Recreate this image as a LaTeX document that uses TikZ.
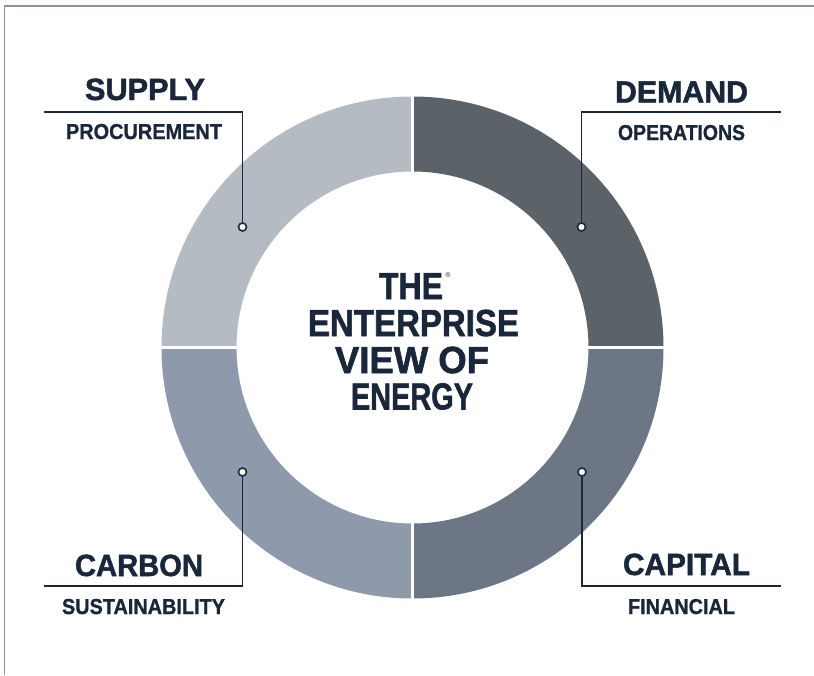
\documentclass[tikz,border=0pt]{standalone}
\usepackage{fontspec}
\setmainfont{Liberation Sans}
\newfontfamily\heavyfont{Liberation Sans Bold}[FakeBold=1.6]
\newfontfamily\midfont{Liberation Sans Bold}[FakeBold=1.1]
\usepackage{graphicx}
\usetikzlibrary{calc}
\definecolor{ink}{HTML}{1A263A}
\definecolor{csupply}{HTML}{B4BBC3}
\definecolor{cdemand}{HTML}{5B6369}
\definecolor{ccarbon}{HTML}{8E9AAB}
\definecolor{ccapital}{HTML}{6C7684}
\definecolor{framecol}{HTML}{8A93A0}
\newcommand{\fitw}[2]{\resizebox{#1pt}{\height}{#2}}
\begin{document}
\begin{tikzpicture}[x=1pt,y=1pt,
  title/.style={anchor=base,inner sep=0pt,text=ink,font=\fontsize{30.7}{30.7}\heavyfont},
  sub/.style={anchor=base,inner sep=0pt,text=ink,font=\fontsize{21.6}{21.6}\midfont},
  core/.style={anchor=base,inner sep=0pt,text=ink,font=\fontsize{37.7}{37.7}\heavyfont},
  leader/.style={draw=ink,line width=1.7pt},
  pin/.style={circle,draw=ink,fill=white,line width=1.6pt,minimum size=8pt,inner sep=0pt},
  gap/.style={white,line width=2.6pt}
]
\useasboundingbox (0,0) rectangle (814,-675);
\fill[white] (0,0) rectangle (814,-675);
\draw[framecol,line width=1.2pt] (4.5,-675) -- (4.5,-6) -- (814,-6);

\coordinate (C) at (412.5,-347.5);
\fill[cdemand] ($(C)+(0:251)$) arc[start angle=0,end angle=90,radius=251pt] -- ($(C)+(90:176)$) arc[start angle=90,end angle=0,radius=176pt] -- cycle;
\fill[csupply] ($(C)+(90:251)$) arc[start angle=90,end angle=180,radius=251pt] -- ($(C)+(180:176)$) arc[start angle=180,end angle=90,radius=176pt] -- cycle;
\fill[ccarbon] ($(C)+(180:251)$) arc[start angle=180,end angle=270,radius=251pt] -- ($(C)+(270:176)$) arc[start angle=270,end angle=180,radius=176pt] -- cycle;
\fill[ccapital] ($(C)+(270:251)$) arc[start angle=270,end angle=360,radius=251pt] -- ($(C)+(0:176)$) arc[start angle=360,end angle=270,radius=176pt] -- cycle;
\draw[gap] ($(C)+(0,255)$) -- ($(C)+(0,-255)$);
\draw[gap] ($(C)+(-255,0)$) -- ($(C)+(255,0)$);

% leaders and pins
\node[pin] (p1) at (242.5,-227) {};
\coordinate (k1) at (242.5,-112);
\coordinate (e1) at (44,-112);
\draw[leader] (p1) -- (k1) -- (e1);

\node[pin] (p2) at (581.5,-227) {};
\coordinate (k2) at (581.5,-112);
\coordinate (e2) at (781,-112);
\draw[leader] (p2) -- (k2) -- (e2);

\node[pin] (p3) at (242.5,-472) {};
\coordinate (k3) at (242.5,-586);
\coordinate (e3) at (44,-586);
\draw[leader] (p3) -- (k3) -- (e3);

\node[pin] (p4) at (582,-472) {};
\coordinate (k4) at (582,-586);
\coordinate (e4) at (781,-586);
\draw[leader] (p4) -- (k4) -- (e4);

% labels
\node[title] (supply) at (145,-100) {\fitw{120}{SUPPLY}};
\node[sub] (procurement) at (144,-139) {\fitw{156}{PROCUREMENT}};
\node[title] (demand) at (681.5,-102.5) {\fitw{133}{DEMAND}};
\node[sub] (operations) at (681.5,-140) {\fitw{127}{OPERATIONS}};
\node[title] (carbon) at (139,-576) {\fitw{128}{CARBON}};
\node[sub] (sustainability) at (143.5,-614) {\fitw{163}{SUSTAINABILITY}};
\node[title] (capital) at (686.5,-575) {\fitw{127}{CAPITAL}};
\node[sub] (financial) at (681.5,-614) {\fitw{107}{FINANCIAL}};

% centre
\node[core] (the) at (411,-299) {\fitw{64}{THE}};
\node[inner sep=0pt,text=ink,font=\fontsize{7}{7}\selectfont] (reg) at (448,-275.5) {®};
\node[core] (enterprise) at (413.5,-336) {\fitw{211}{ENTERPRISE}};
\node[core] (view) at (412,-373) {\fitw{154}{VIEW OF}};
\node[core] (energy) at (412,-409.5) {\fitw{122}{ENERGY}};
\end{tikzpicture}
\end{document}
